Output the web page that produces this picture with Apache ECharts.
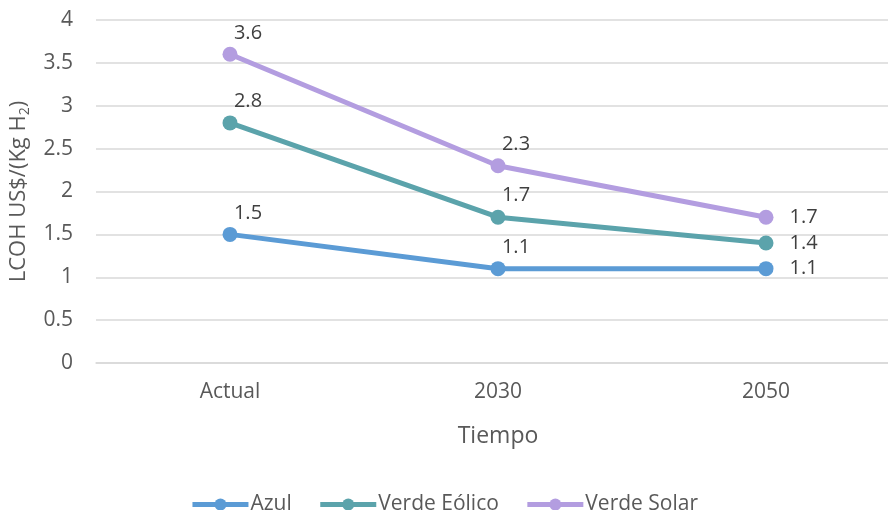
<!DOCTYPE html>
<html>
<head>
<meta charset="utf-8">
<script src="https://cdn.jsdelivr.net/npm/echarts@6/dist/echarts.min.js"></script>
<style>
  html, body { margin: 0; padding: 0; background: #fff; }
  #chart { width: 888px; height: 510px; }
</style>
</head>
<body>
<div id="chart"></div>
<script>
const categories = ['Actual', '2030', '2050'];
const azul = [1.5, 1.1, 1.1];
const verdeEolico = [2.8, 1.7, 1.4];
const verdeSolar = [3.6, 2.3, 1.7];

const FONT = '"Open Sans", sans-serif';
const TEXT = '#595959';

// etiquetas arriba a la derecha, la última a la derecha del punto
function withLabels(values) {
  return values.map((v, i) => ({
    value: v,
    label: i === values.length - 1
      ? { position: 'right', distance: 16 }
      : { position: 'top', offset: [18, 1] },
  }));
}

function makeSeries(name, values, color) {
  return {
    name,
    type: 'line',
    data: withLabels(values),
    symbol: 'circle',
    symbolSize: 15,
    lineStyle: { width: 5, color },
    itemStyle: { color },
    label: {
      show: true,
      fontFamily: FONT,
      fontSize: 20,
      color: '#404040',
    },
  };
}

const chart = echarts.init(document.getElementById('chart'));
chart.setOption({
  animation: false,
  grid: { left: 96, right: -12, top: 20, bottom: 147, outerBoundsMode: 'none', containLabel: false },
  legend: {
    top: 489,
    left: 'center',
    itemWidth: 56,
    itemHeight: 15,
    itemGap: 26,
    lineStyle: { width: 5 },
    textStyle: { fontFamily: FONT, fontSize: 21, color: TEXT, padding: [0, 0, 0, -3] },
    data: ['Azul', 'Verde Eólico', 'Verde Solar'],
  },
  xAxis: {
    type: 'category',
    data: categories,
    boundaryGap: true,
    name: 'Tiempo',
    nameLocation: 'middle',
    nameGap: 62,
    nameTextStyle: { fontFamily: FONT, fontSize: 23, color: TEXT },
    axisLine: { lineStyle: { color: '#d9d9d9', width: 1.5 } },
    axisTick: { show: false },
    axisLabel: { fontFamily: FONT, fontSize: 21, color: TEXT, margin: 19 },
  },
  yAxis: {
    type: 'value',
    min: 0,
    max: 4,
    interval: 0.5,
    name: '{a|LCOH US$/(Kg H}{s|2}{a|)}',
    nameLocation: 'middle',
    nameGap: 64,
    nameRotate: 90,
    nameTextStyle: {
      rich: {
        a: { fontFamily: FONT, fontSize: 22, color: TEXT, lineHeight: 26 },
        s: { fontFamily: FONT, fontSize: 14, color: TEXT, lineHeight: 26, verticalAlign: 'bottom', padding: [10, 0, 0, 0] },
      },
    },
    axisLine: { show: false },
    axisTick: { show: false },
    axisLabel: { fontFamily: FONT, fontSize: 21, color: TEXT, margin: 23 },
    splitLine: { lineStyle: { color: '#d9d9d9', width: 1.5 } },
  },
  series: [
    makeSeries('Azul', azul, '#5B9BD5'),
    makeSeries('Verde Eólico', verdeEolico, '#5BA3AB'),
    makeSeries('Verde Solar', verdeSolar, '#B39DE0'),
  ],
});
</script>
</body>
</html>
